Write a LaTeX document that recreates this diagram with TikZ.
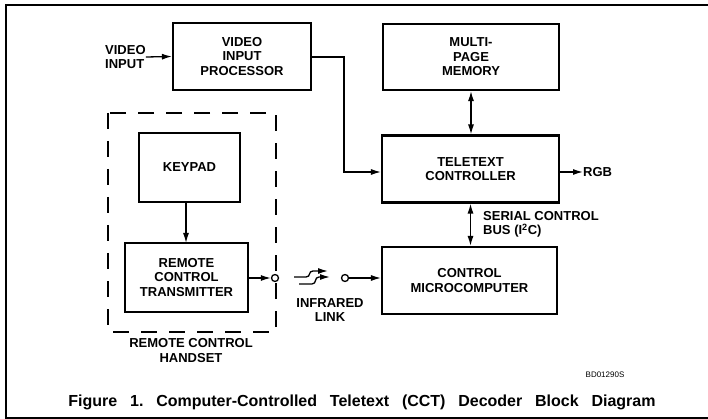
\documentclass[tikz,border=0pt]{standalone}
\usepackage{fontspec}
\setmainfont{Liberation Sans}
\usetikzlibrary{arrows.meta}
\begin{document}
\begin{tikzpicture}[x=1pt,y=-1pt,
  blk/.style={draw,line width=2.1pt,inner sep=0pt,align=center,
    font=\fontsize{13}{14.5}\selectfont\bfseries},
  lbl/.style={inner sep=0pt,font=\fontsize{13}{14.5}\selectfont\bfseries},
  tip/.tip={Latex[length=10pt,width=6pt]},
  arr/.style={line width=1.3pt,-tip},
  arrb/.style={line width=1.3pt,tip-tip},
  port/.style={circle,draw,line width=1.3pt,fill=white,minimum size=7pt,inner sep=0pt},
  handset/.style={draw,line width=2.5pt,dash pattern=on 16pt off 12pt}]
\useasboundingbox (0,0) rectangle (708,419);
% frame
\draw[line width=1.4pt] (708,5) -- (6,5) -- (6,418) -- (708,418);
% blocks
\node[blk,minimum width=138pt,minimum height=67pt] (vip) at (242,56.5) {VIDEO\\INPUT\\PROCESSOR};
\node[blk,minimum width=176pt,minimum height=66pt] (mem) at (471,57) {MULTI-\\PAGE\\MEMORY};
\node[blk,minimum width=177pt,minimum height=67pt] (ttc) at (470.5,169) {TELETEXT\\CONTROLLER};
\node[blk,minimum width=175pt,minimum height=67pt] (cmc) at (469.5,280.5) {CONTROL\\MICROCOMPUTER};
\node[blk,minimum width=101pt,minimum height=69pt] (key) at (189.5,167.5) {KEYPAD};
\node[blk,minimum width=123pt,minimum height=69pt] (rct) at (186.5,277.5) {REMOTE\\CONTROL\\TRANSMITTER};
% handset dashed box
\draw[handset] (108,113) rectangle (276,332);
% labels
\node[lbl,align=left,anchor=west] (vin) at (105,57) {VIDEO\\INPUT};
\node[lbl,anchor=west] (rgb) at (583,172) {RGB};
\node[lbl,align=left,anchor=west] (ser) at (483,224.5) {SERIAL CONTROL\\BUS (I\textsuperscript{2}C)};
\node[lbl,align=center] (irl) at (330,310) {INFRARED\\LINK};
\node[lbl,align=center] (hst) at (191,350.5) {REMOTE CONTROL\\HANDSET};
\node[inner sep=0pt,font=\fontsize{8}{9}\selectfont] (bd) at (605,375) {BD01290S};
\node[inner sep=0pt,font=\fontsize{16}{18}\selectfont\bfseries] (cap) at (362,402)
  {Figure\hspace{0.8em}1.\hspace{0.8em}Computer-Controlled\hspace{0.8em}Teletext\hspace{0.8em}(CCT)\hspace{0.8em}Decoder\hspace{0.8em}Block\hspace{0.8em}Diagram};
% ports
\node[port] (c1) at (275,278) {};
\node[port] (c2) at (345,278) {};
% connectors
\draw[arr] (vin.east) -- (vip.west);
\coordinate (bend) at (344,57);
\draw[arr] (vip.east |- bend) -- (bend) |- (ttc.west |- 0,172);
\draw[arrb] (mem.south) -- (mem.south |- ttc.north);
\draw[arr] (ttc.east |- rgb) -- (rgb.west);
\draw[arrb] (ttc.south) -- (ttc.south |- cmc.north);
\draw[arr] (186,202) -- (186,243);
\draw[arr] (rct.east |- c1) -- (c1.west);
\draw[arr] (c2.east) -- (c2.east -| cmc.west);
% infrared symbol
\coordinate (u0) at (294,277); \coordinate (u1) at (306,277);
\coordinate (u2) at (313,271); \coordinate (u3) at (328,271);
\coordinate (l0) at (299,284); \coordinate (l1) at (312,284);
\coordinate (l2) at (319,277); \coordinate (l3) at (330,277);
\draw[arr] (u0) -- (u1) .. controls (311,277) and (308,271) .. (u2) -- (u3);
\draw[arr] (l0) -- (l1) .. controls (317,284) and (314,277) .. (l2) -- (l3);
\end{tikzpicture}
\end{document}
